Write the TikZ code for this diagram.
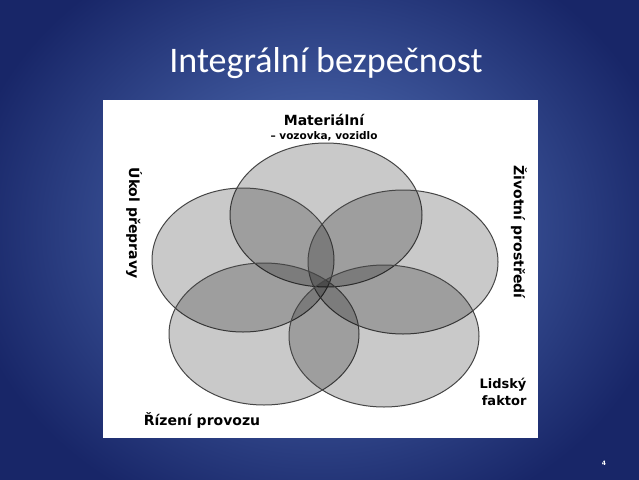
\documentclass[tikz,border=0pt]{standalone}
\usepackage{fontspec}
\setmainfont{DejaVu Sans}
\newfontfamily\titlefont{Carlito}
\definecolor{bginner}{RGB}{88,120,190}
\definecolor{bgouter}{RGB}{24,38,104}
\definecolor{ringline}{RGB}{70,70,70}
\tikzset{
  petal/.style={draw=ringline, line width=1pt, fill=black, fill opacity=0.21},
  lbl/.style={font=\bfseries\fontsize{14}{16}\selectfont, text=black, inner sep=0pt, align=center},
}
\begin{document}
\begin{tikzpicture}[x=1pt,y=-1pt]
\useasboundingbox (0,0) rectangle (639,479);
\shade[inner color=bginner, outer color=bgouter] (-40,-80) rectangle (679,539);
\node[text=white, font=\titlefont\fontsize{36}{38}\selectfont, inner sep=0pt] (title) at (326,63) {Integrální bezpečnost};
\fill[white] (103,100) rectangle (538,438);
\draw[petal] (326,215) ellipse [x radius=96, y radius=72];
\draw[petal] (243,260) ellipse [x radius=91, y radius=72];
\draw[petal] (403,262) ellipse [x radius=95, y radius=72];
\draw[petal] (264,334) ellipse [x radius=95, y radius=71];
\draw[petal] (384,336) ellipse [x radius=95, y radius=71];
\node[lbl] (mat) at (324,120) {Materiální};
\node[lbl, font=\bfseries\fontsize{10.5}{12}\selectfont] (mat2) at (324,136) {– vozovka, vozidlo};
\node[lbl, rotate=-90] (ukol) at (134,223) {Úkol přepravy};
\node[lbl, rotate=-90] (ziv) at (519,232) {Životní prostředí};
\node[lbl, font=\bfseries\fontsize{13}{17}\selectfont, align=right] (lid) at (503,392) {Lidský\\faktor};
\node[lbl] (riz) at (202,420) {Řízení provozu};
\node[text=white, font=\bfseries\fontsize{6}{7}\selectfont, inner sep=0pt] (num) at (604,463) {4};
\end{tikzpicture}
\end{document}
